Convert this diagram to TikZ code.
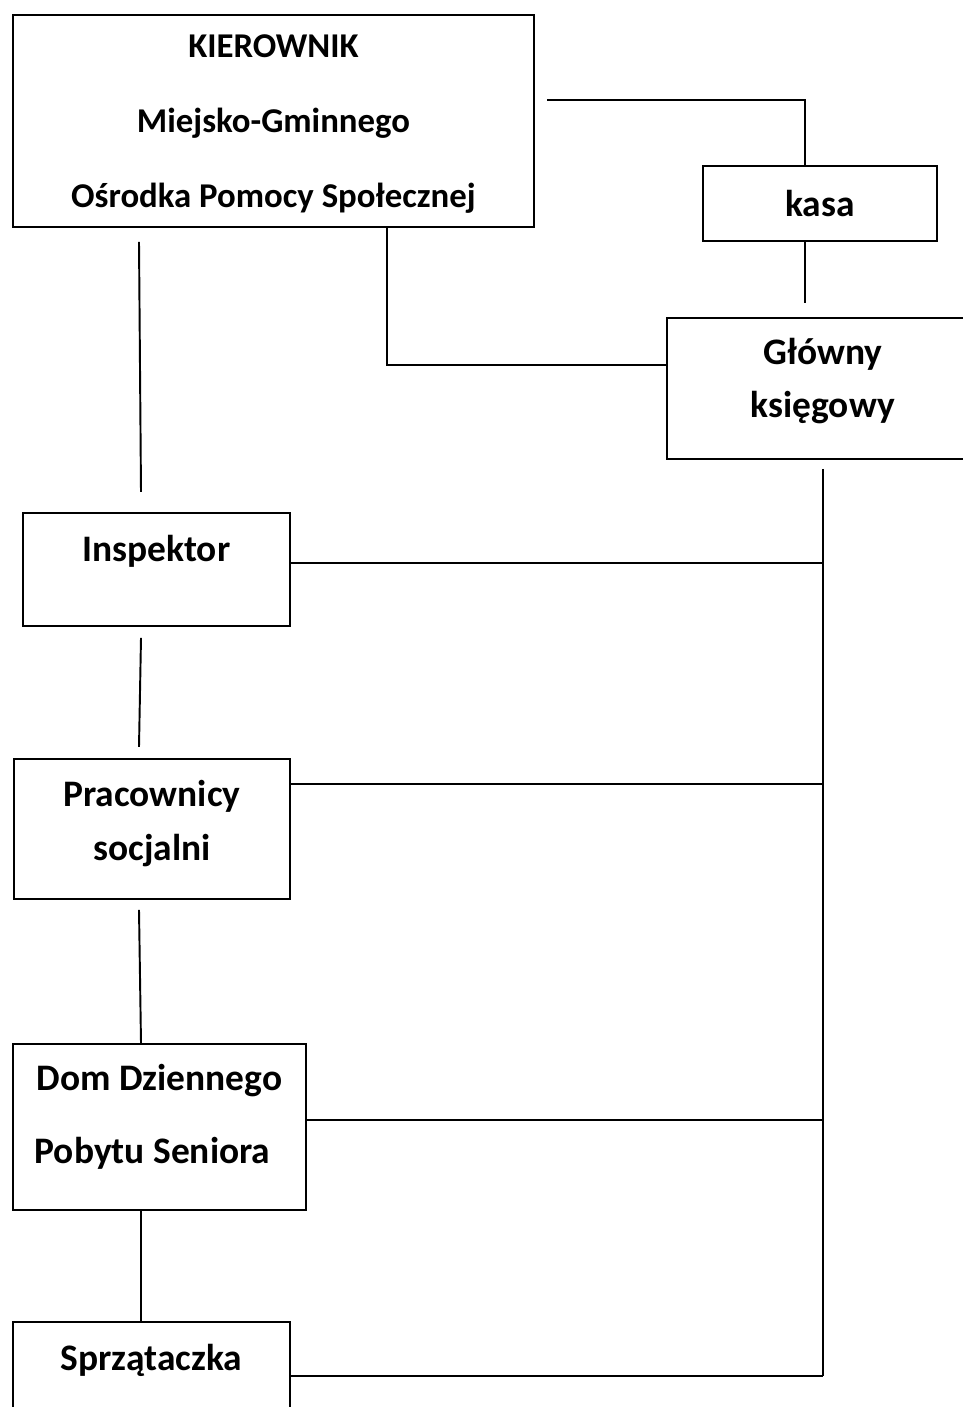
\documentclass[tikz,border=0pt]{standalone}
\usepackage{fontspec}
\setmainfont{Carlito}
\usetikzlibrary{shapes,arrows,positioning}

\begin{document}
\begin{tikzpicture}

  \tikzset{box/.style={rectangle, draw, line width=1.1pt, align=center,
  		font=\fontsize{21.3pt}{30.7pt}\selectfont\bfseries}, }
  \tikzset{glowny/.style={box, font=\fontsize{19.8pt}{30.7pt}\selectfont\bfseries}, }
  \tikzset{linia/.style={line width=1.1pt}, }

  \useasboundingbox (0,0) rectangle (19.26,-28.14);

    \node[glowny, minimum width=10.42cm, minimum height=4.24cm, text depth=0pt, anchor=north west] (kier) at (0.24,-0.28)
      {KIEROWNIK\\[12pt] Miejsko-Gminnego\\[12pt] Ośrodka Pomocy Społecznej};
    \node[box, minimum width=4.68cm, minimum height=1.5cm] (kasa)
      [right=3.34cm of kier.north east, anchor=north west, yshift=-3.02cm] {kasa};
    \node[box, minimum width=6.24cm, minimum height=2.82cm, text depth=12pt] (ksieg)
      [below=1.5cm of kasa.south west, anchor=north west, xshift=-0.72cm] {Główny\\ księgowy};
    \node[box, minimum width=5.34cm, minimum height=2.26cm] (insp)
      [below=5.68cm of kier.south west, anchor=north west, xshift=0.2cm] {Inspektor\\[-7pt] ~};
    \node[box, minimum width=5.52cm, minimum height=2.8cm, text depth=10pt] (prac)
      [below=2.62cm of insp.south west, anchor=north west, xshift=-0.18cm] {Pracownicy\\ socjalni};
    \node[box, minimum width=5.86cm, minimum height=3.32cm, text depth=15pt] (dom)
      [below=2.86cm of prac.south west, anchor=north west, xshift=-0.02cm] {Dom Dziennego\\[11pt] Pobytu Seniora\kern0.28cm};
    \node[box, minimum width=5.54cm, minimum height=2.26cm] (sprz)
      [below=2.2cm of dom.south west, anchor=north west] {Sprzątaczka\\[-7pt] ~};
%
  % gora: kierownik - kasa - ksiegowy
  \draw[linia] ([shift={(0.25,0.42)}]kier.east) -| ([xshift=-0.3cm]kasa.north);
  \coordinate (kasa-d) at ([xshift=-0.3cm]kasa.south);
  \coordinate[above=0.28cm of ksieg.north] (ksieg-g);
  \draw[linia] (kasa-d) -- (kasa-d |- ksieg-g);
  \draw[linia] ([xshift=7.5cm]kier.south west) |- ([yshift=0.47cm]ksieg.west);
%
  % lewa kolumna
\foreach \a/\sa/\b/\sb in {kier/{(2.54,-0.28)}/insp/{(2.38,0.4)},
                           insp/{(2.38,-0.22)}/prac/{(2.52,0.22)},
                           prac/{(2.52,-0.2)}/dom/{(2.58,0)},
                           dom/{(2.58,0)}/sprz/{(2.58,0)}}
  \draw[linia] ([shift={\sa}]\a.south west) -- ([shift={\sb}]\b.north west);
%
  % prawa szyna
\foreach \n/\s in {insp/0.13, prac/0.9, dom/0.14, sprz/0.05}{
  \coordinate (\n-e) at ([yshift=\s cm]\n.east);
  \draw[linia] (\n-e) -- (\n-e -| ksieg.south);
}
  \draw[linia] ([yshift=-0.18cm]ksieg.south) -- (ksieg.south |- sprz-e);
%
\end{tikzpicture}
\end{document}
